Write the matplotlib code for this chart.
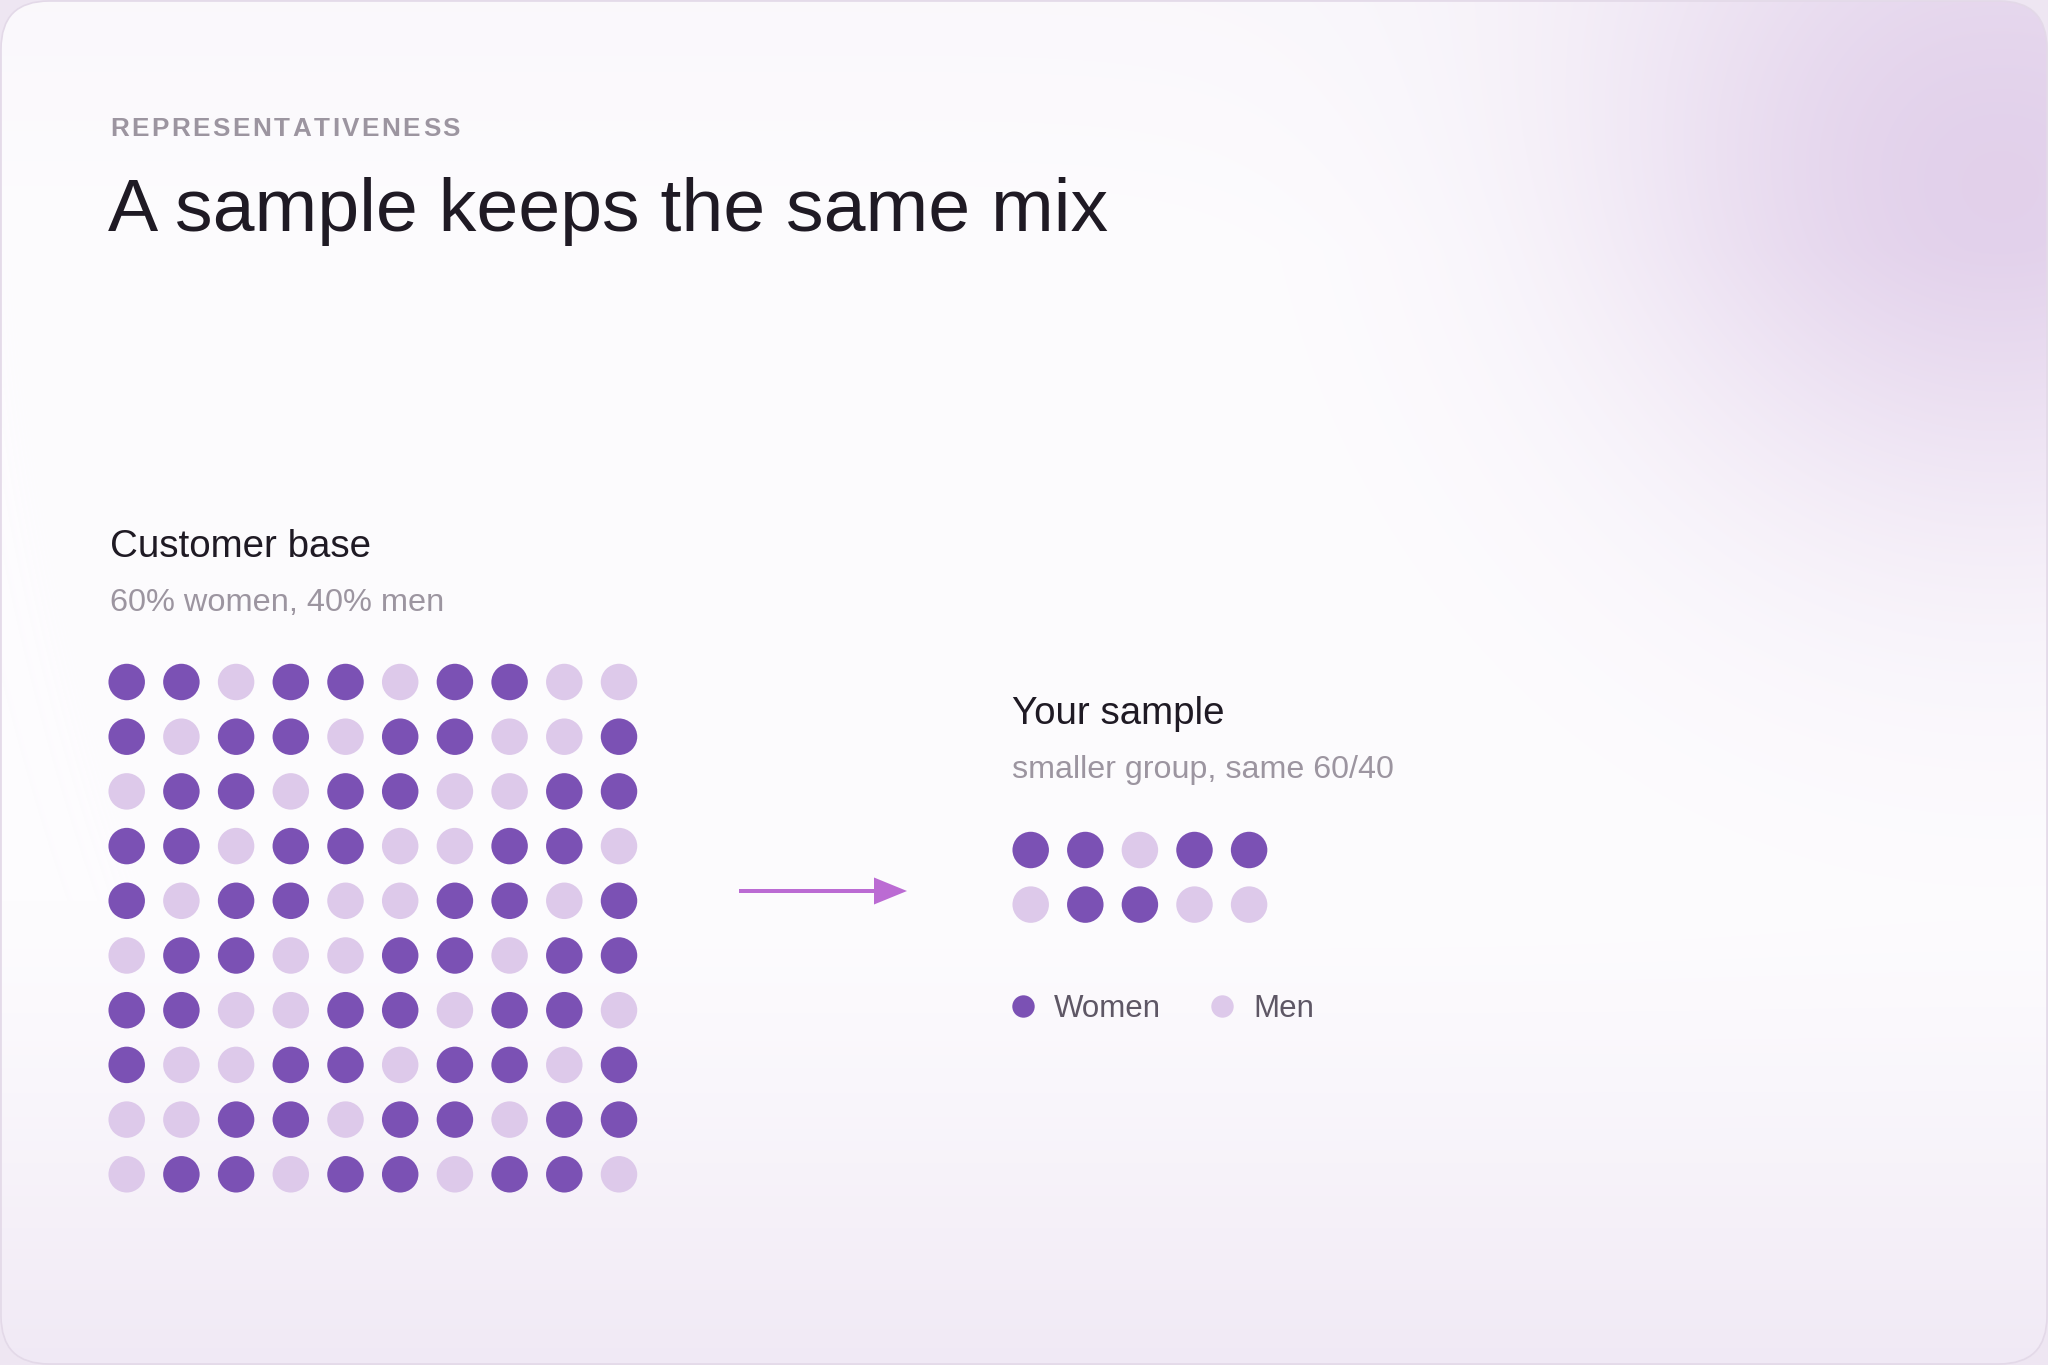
import numpy as np
import matplotlib
matplotlib.use('Agg')
import matplotlib.pyplot as plt
from matplotlib.patches import FancyBboxPatch, FancyArrow

plt.rcParams['font.family'] = ['Liberation Sans', 'DejaVu Sans']

# data: 1 = women, 0 = men
base_grid = [
    [1, 1, 0, 1, 1, 0, 1, 1, 0, 0],
    [1, 0, 1, 1, 0, 1, 1, 0, 0, 1],
    [0, 1, 1, 0, 1, 1, 0, 0, 1, 1],
    [1, 1, 0, 1, 1, 0, 0, 1, 1, 0],
    [1, 0, 1, 1, 0, 0, 1, 1, 0, 1],
    [0, 1, 1, 0, 0, 1, 1, 0, 1, 1],
    [1, 1, 0, 0, 1, 1, 0, 1, 1, 0],
    [1, 0, 0, 1, 1, 0, 1, 1, 0, 1],
    [0, 0, 1, 1, 0, 1, 1, 0, 1, 1],
    [0, 1, 1, 0, 1, 1, 0, 1, 1, 0],
]
sample_grid = [
    [1, 1, 0, 1, 1],
    [0, 1, 1, 0, 0],
]
legend_labels = ['Women', 'Men']

kicker = 'REPRESENTATIVENESS'
title = 'A sample keeps the same mix'
base_title = 'Customer base'
base_sub = '60% women, 40% men'
sample_title = 'Your sample'
sample_sub = 'smaller group, same 60/40'

C_WOMEN = '#7B51B4'
C_MEN = '#DDC9EA'
C_TITLE = '#1F1A24'
C_GRAY = '#9C95A0'
C_LEG = '#5E5765'
C_ARROW = '#BB6BD3'

W, H = 2048, 1365
fig = plt.figure(figsize=(W / 100, H / 100), dpi=100)
fig.patch.set_facecolor('#EEE6F2')
ax = fig.add_axes([0, 0, 1, 1])
ax.set_xlim(0, W)
ax.set_ylim(H, 0)
ax.axis('off')

# background card with soft gradients
yy, xx = np.mgrid[0:H, 0:W].astype(float)
img = np.ones((H, W, 3)) * np.array([253, 252, 254]) / 255
corner = np.exp(-(((xx - 2000) / 400) ** 2 + ((yy - 50) / 450) ** 2) ** 1.1)
corner_col = np.array([222, 202, 232]) / 255
img = img * (1 - corner[..., None]) + corner_col * corner[..., None]
bottom = np.clip((yy - 900) / (H - 900), 0, 1) ** 1.3
bottom_col = np.array([239, 231, 244]) / 255
img = img * (1 - 0.9 * bottom[..., None]) + bottom_col * 0.9 * bottom[..., None]
top = np.clip(1 - yy / 250, 0, 1) * 0.35
top_col = np.array([245, 241, 248]) / 255
img = img * (1 - top[..., None]) + top_col * top[..., None]

card = FancyBboxPatch((1, 1), W - 2, H - 2, boxstyle='round,pad=0,rounding_size=48',
                      facecolor='none', edgecolor='#E3D9E8', linewidth=1.2, zorder=2)
ax.add_patch(card)
im = ax.imshow(img, extent=(0, W, H, 0), zorder=0, interpolation='bilinear')
im.set_clip_path(card)
ax.set_xlim(0, W)
ax.set_ylim(H, 0)

# kicker with letter spacing
renderer = fig.canvas.get_renderer()
x = 110
for ch in kicker:
    t = ax.text(x, 136, ch, fontsize=18.8, color=C_GRAY, fontweight='bold',
                va='baseline', ha='left')
    x += t.get_window_extent(renderer).width + 2.5

ax.text(108, 231, title, fontsize=54.2, color=C_TITLE, va='baseline', ha='left')

ax.text(110, 557, base_title, fontsize=27.7, color=C_TITLE, va='baseline')
ax.text(110, 611, base_sub, fontsize=23.4, color=C_GRAY, va='baseline')
ax.text(1012, 724, sample_title, fontsize=27.7, color=C_TITLE, va='baseline')
ax.text(1012, 778, sample_sub, fontsize=23.2, color=C_GRAY, va='baseline')


def dot_grid(grid, x0, y0, step, size):
    g = np.array(grid)
    rows, cols = np.indices(g.shape)
    xs = x0 + cols.ravel() * step
    ys = y0 + rows.ravel() * step
    cols_c = np.where(g.ravel() == 1, C_WOMEN, C_MEN)
    ax.scatter(xs, ys, s=size, c=cols_c, linewidths=0, zorder=3)


dot_grid(base_grid, 126.7, 682, 54.7, 690)
dot_grid(sample_grid, 1030.7, 850, 54.6, 690)

# arrow
ax.add_patch(FancyArrow(739, 891, 168, 0, width=4, head_width=27, head_length=33,
                        length_includes_head=True, color=C_ARROW, linewidth=0, zorder=3))

# legend
leg_x = [1023, 1222]
for lx, lab, col in zip(leg_x, legend_labels, [C_WOMEN, C_MEN]):
    ax.scatter([lx], [1006], s=260, c=col, linewidths=0, zorder=3)
    ax.text(lx + 31, 1017, lab, fontsize=22.5, color=C_LEG, va='baseline')

fig.savefig('out.png', dpi=100)
